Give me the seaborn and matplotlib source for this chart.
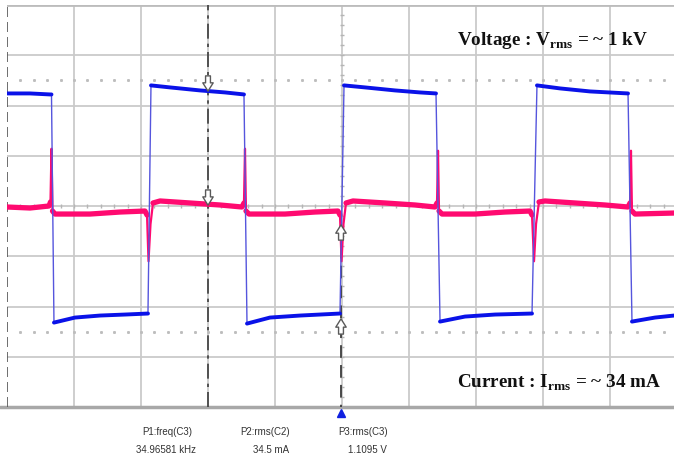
import numpy as np
import pandas as pd
import matplotlib
matplotlib.use("Agg")
import matplotlib.pyplot as plt
import seaborn as sns

# scope settings (per screen division)
US_PER_DIV = 10.0
KV_PER_DIV = 0.5
MA_PER_DIV = 50.0

# C3 voltage trace (time in us, voltage in kV)
volt_t = [0.0, 3.43, 6.42, 6.64, 7.01, 10.15, 13.88, 17.61, 21.04,
          21.49, 24.33, 28.81, 32.54, 35.37,
          35.82, 39.25, 43.73, 49.70,
          50.30, 53.43, 57.91, 61.64, 64.03,
          64.63, 68.36, 72.84, 78.36,
          79.10, 82.54, 87.01, 92.69,
          93.28, 96.72, 99.55]
volt_kv = [1.12, 1.12, 1.11, 1.11, -1.16, -1.11, -1.09, -1.08, -1.07,
           1.20, 1.18, 1.15, 1.13, 1.11,
           -1.17, -1.11, -1.09, -1.07,
           1.20, 1.18, 1.15, 1.13, 1.12,
           -1.15, -1.10, -1.08, -1.07,
           1.20, 1.17, 1.14, 1.12,
           -1.15, -1.11, -1.09]

# C2 current trace (time in us, current in mA)
curr_t = [0.0, 3.43, 6.27, 6.49, 6.64, 6.79, 7.16, 12.39, 16.87, 20.60,
          20.90, 21.12, 21.42, 21.79, 22.84, 27.31, 31.79, 35.07,
          35.37, 35.52, 35.67, 36.12, 41.49, 45.97, 49.40,
          49.70, 49.93, 50.22, 50.60, 51.64, 56.42, 60.90, 63.88,
          64.18, 64.33, 64.48, 64.93, 69.85, 74.33, 78.06,
          78.36, 78.66, 78.96, 79.40, 80.30, 84.78, 89.25, 92.69,
          92.99, 93.13, 93.28, 93.73, 99.55]
curr_ma = [-1, -2, 0, 4, 57, -5, -8, -8, -6, -5,
           -9, -55, -18, 3, 5, 3, 1, -1,
           3, 57, -5, -8, -8, -6, -5,
           -9, -55, -18, 3, 5, 3, 1, -1,
           3, 55, -5, -8, -8, -6, -5,
           -9, -55, -18, 4, 5, 3, 1, -1,
           3, 55, -5, -8, -7]

meas_names = ["P1:freq(C3)", "P2:rms(C2)", "P3:rms(C3)"]
meas_values = ["34.96581 kHz", "34.5 mA", "1.1095 V"]


def trace_frame(t, y, per_div, jump):
    # split the trace at the fast edges so the flat parts can be drawn thick
    seg = [0]
    for k in range(1, len(y)):
        seg.append(seg[-1] + int(abs(y[k] - y[k - 1]) > jump))
    return pd.DataFrame({"x": np.array(t) / US_PER_DIV,
                         "y": np.array(y) / per_div,
                         "seg": seg})


volt = trace_frame(volt_t, volt_kv, KV_PER_DIV, 0.5)
curr = trace_frame(curr_t, curr_ma, MA_PER_DIV, 15)

sns.set_style("white")
plt.rcParams["mathtext.fontset"] = "custom"
plt.rcParams["mathtext.rm"] = "Liberation Serif:bold"

W, H = 674, 459
fig = plt.figure(figsize=(W / 100, H / 100), dpi=100)
ax = fig.add_axes([7 / W, 52 / H, 1 - 7 / W, 402 / H])
ax.set_xlim(0, 667 / 67)
ax.set_ylim(-4, 4)
ax.set_axis_off()

# graticule
grid_c = "#cacaca"
for gx in range(1, 10):
    ax.axvline(gx, color=grid_c, lw=1.3, zorder=0)
for gy in range(-3, 4):
    ax.axhline(gy, color=grid_c, lw=1.3, zorder=0)
ax.axhline(4, color="#bcbcbc", lw=2, zorder=0)
ax.plot([-0.11, 10], [-4, -4], color="#a8a8a8", lw=2.5, clip_on=False, zorder=0)
ax.axvline(0, color="#555555", lw=1.2, dashes=(6, 3), zorder=1)

# small marks on the centre lines and dotted rows
marks = np.arange(0.2, 10, 0.2)
ax.plot(marks, np.full_like(marks, 2.5), ls="none", marker="s", ms=1.1, color="#bdbdbd", zorder=0)
ax.plot(marks, np.full_like(marks, -2.5), ls="none", marker="s", ms=1.1, color="#bdbdbd", zorder=0)
ax.plot(marks, np.zeros_like(marks), ls="none", marker="|", ms=3, color="#b5b5b5", zorder=0)
vmarks = np.arange(-3.8, 4, 0.2)
ax.plot(np.full_like(vmarks, 5), vmarks, ls="none", marker="_", ms=3, color="#b5b5b5", zorder=0)

# cursors
ax.axvline(3, color="#3c3c3c", lw=1.2, dashes=(9, 3, 2, 3), zorder=1)
ax.plot([4.985, 4.985], [-0.4, -4], color="#3c3c3c", lw=1.3, dashes=(7, 4), zorder=1)

# traces
pink = "#ff0a70"
blue = "#0a12e8"
sns.lineplot(data=curr, x="x", y="y", estimator=None, sort=False, ax=ax,
             color=pink, lw=1.6, zorder=3)
sns.lineplot(data=curr, x="x", y="y", units="seg", estimator=None, sort=False, ax=ax,
             color=pink, lw=3.8, zorder=3)
sns.lineplot(data=volt, x="x", y="y", estimator=None, sort=False, ax=ax,
             color="#5555dd", lw=1.0, zorder=4)
sns.lineplot(data=volt, x="x", y="y", units="seg", estimator=None, sort=False, ax=ax,
             color=blue, lw=2.8, zorder=4)

# cursor arrows
arrow = dict(arrowstyle="simple,head_length=0.6,head_width=0.75,tail_width=0.35",
             fc="white", ec="#5a5a5a", lw=1)
ax.annotate("", xy=(3.0, 2.23), xytext=(0, 15), textcoords="offset points",
            arrowprops=arrow, zorder=6)
ax.annotate("", xy=(3.0, -0.04), xytext=(0, 15), textcoords="offset points",
            arrowprops=arrow, zorder=6)
ax.annotate("", xy=(4.985, -0.32), xytext=(0, -15), textcoords="offset points",
            arrowprops=arrow, zorder=6)
ax.annotate("", xy=(4.985, -2.19), xytext=(0, -15), textcoords="offset points",
            arrowprops=arrow, zorder=6)
ax.plot([4.99], [-4.12], marker="^", ms=6, color="#1020e0", clip_on=False, zorder=6)

# labels
serif = dict(family="Liberation Serif", fontweight="bold", fontsize=13.8,
             color="#111111", va="baseline")
fig.text(457 / W, 1 - 45 / H, r"Voltage : V$_{\mathrm{rms}}$ = ~ 1 kV", **serif)
fig.text(457 / W, 1 - 388 / H, r"Current : I$_{\mathrm{rms}}$ = ~ 34 mA", **serif)

name_x = [192, 290, 388]
value_x = [196, 289, 387]
for nm, val, nx, vx in zip(meas_names, meas_values, name_x, value_x):
    fig.text(nx / W, 1 - 432 / H, nm, family="Liberation Sans", fontsize=7,
             color="#333333", ha="right", va="center")
    fig.text(vx / W, 1 - 450 / H, val, family="Liberation Sans", fontsize=7,
             color="#333333", ha="right", va="center")

fig.savefig("out.png", dpi=100)
